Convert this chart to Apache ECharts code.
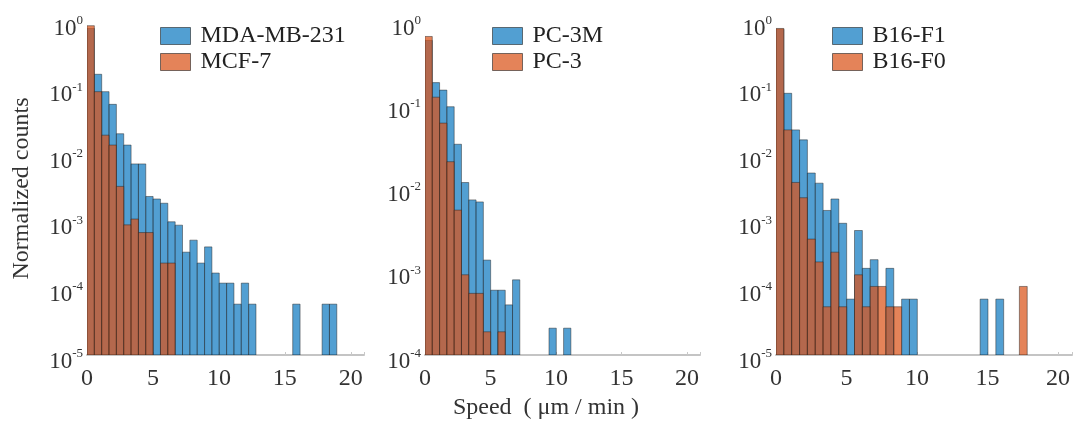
<!DOCTYPE html>
<html>
<head>
<meta charset="utf-8">
<script src="https://cdn.jsdelivr.net/npm/echarts@6/dist/echarts.min.js"></script>
<style>html,body{margin:0;padding:0;background:#fff;}#c{width:1081px;height:425px;}</style>
</head>
<body>
<div id="c"></div>
<script>
// ---- data ----
const BIN = 0.557; // histogram bin width (µm/min)
const xTicks = [0, 5, 10, 15, 20];
const names1 = ['MDA-MB-231', 'MCF-7'];
const names2 = ['PC-3M', 'PC-3'];
const names3 = ['B16-F1', 'B16-F0'];
// normalized counts per bin (bin i covers [i*BIN, (i+1)*BIN))
const mda = [0.8, 0.164, 0.09, 0.058, 0.021, 0.0142, 0.0074, 0.0074, 0.0024, 0.0022, 0.0019, 0.0010, 0.00089, 0.00035, 0.00053, 0.00024, 0.00042, 0.00017, 0.00012, 0.00012, 0.000058, 0.00012, 0.000058, 0, 0, 0, 0, 0, 0.000058, 0, 0, 0, 0.000058, 0.000058];
const mcf = [0.88, 0.09, 0.020, 0.0142, 0.0034, 0.0009, 0.0011, 0.00069, 0.00069, 0, 0.00024, 0.00024];
const pc3m = [0.6, 0.187, 0.152, 0.096, 0.034, 0.0118, 0.0073, 0.0069, 0.00138, 0.0006, 0.0006, 0.0004, 0.0008, 0, 0, 0, 0, 0.00021, 0, 0.00021];
const pc3 = [0.67, 0.125, 0.061, 0.021, 0.0055, 0.00092, 0.00055, 0.00055, 0.00019, 0, 0.00019];
const b16f1 = [0.78, 0.085, 0.024, 0.017, 0.0054, 0.0038, 0.00148, 0.0022, 0.00095, 0.000069, 0.00074, 0.0002, 0.00027, 0, 0.0002, 0, 0.000069, 0.000069, 0, 0, 0, 0, 0, 0, 0, 0, 0.000069, 0, 0.000069];
const b16f0 = [0.80, 0.024, 0.0039, 0.0023, 0.00055, 0.00025, 0.000053, 0.00035, 0.000053, 0, 0.00016, 0.000053, 0.000107, 0.000107, 0.000053, 0.000053, 0, 0, 0, 0, 0, 0, 0, 0, 0, 0, 0, 0, 0, 0, 0, 0.000107];
const yMins = [1e-5, 1e-4, 1e-5];

// ---- styling ----
const FONT = '"Liberation Serif", "DejaVu Serif", serif';
const BLUE = 'rgba(0,114,189,0.68)';
const ORANGE = 'rgba(217,83,25,0.72)';
const EDGE = 'rgba(35,35,35,0.6)';

function toBins(arr) {
  const out = [];
  arr.forEach((v, i) => { if (v > 0) out.push([i * BIN, (i + 1) * BIN, v]); });
  return out;
}

function histSeries(name, arr, gi, color) {
  const yMin = yMins[gi];
  return {
    type: 'custom', name: name, xAxisIndex: gi, yAxisIndex: gi,
    itemStyle: { color: color, borderColor: EDGE, borderWidth: 1 },
    encode: { x: [0, 1], y: 2 },
    data: toBins(arr),
    clip: true,
    renderItem: function (params, api) {
      const p0 = api.coord([api.value(0), api.value(2)]);
      const p1 = api.coord([api.value(1), yMin]);
      return {
        type: 'rect',
        shape: { x: p0[0], y: p0[1], width: p1[0] - p0[0], height: p1[1] - p0[1] },
        style: { fill: color, stroke: EDGE, lineWidth: 0.8 }
      };
    }
  };
}

const grids = [
  { left: 87, right: 717, top: 22, bottom: 70 },
  { left: 425, right: 381, top: 22, bottom: 70 },
  { left: 776, right: 9, top: 22, bottom: 70 }
];

function xAxis(gi) {
  return {
    type: 'value', gridIndex: gi, min: 0, max: 21, interval: 5,
    axisLine: { show: true, lineStyle: { color: '#c4c4c4', width: 2 } },
    axisTick: { show: true, inside: true, length: 3, lineStyle: { color: '#c8c8c8' } },
    splitLine: { show: false },
    axisLabel: {
      margin: 12, fontFamily: FONT, fontSize: 24, color: '#333',
      customValues: xTicks,
      formatter: v => (xTicks.indexOf(v) >= 0 ? String(v) : '')
    }
  };
}

function yAxis(gi) {
  const ax = {
    type: 'log', logBase: 10, gridIndex: gi, min: yMins[gi], max: 1,
    axisLine: { show: false }, axisTick: { show: false }, splitLine: { show: false },
    axisLabel: {
      margin: 4, color: '#333', fontFamily: FONT, padding: [10, 0, 0, 0],
      formatter: v => '{b|10}{s|' + Math.round(Math.log10(v)) + '}',
      rich: {
        b: { fontFamily: FONT, fontSize: 23, color: '#333', lineHeight: 26, verticalAlign: 'bottom' },
        s: { fontFamily: FONT, fontSize: 13, color: '#333', lineHeight: 26, verticalAlign: 'top' }
      }
    }
  };
  if (gi === 0) {
    ax.name = 'Normalized counts';
    ax.nameLocation = 'middle';
    ax.nameGap = 53;
    ax.nameTextStyle = { fontFamily: FONT, fontSize: 24, color: '#333' };
  }
  return ax;
}

function legend(names, left) {
  return {
    data: names, left: left, top: 19, orient: 'vertical', icon: 'rect',
    itemWidth: 30, itemHeight: 17, itemGap: 2,
    itemStyle: { borderColor: EDGE, borderWidth: 1 },
    textStyle: { fontFamily: FONT, fontSize: 24, color: '#222', lineHeight: 21, padding: [0, 0, 0, 5] }
  };
}

const chart = echarts.init(document.getElementById('c'), null, { renderer: 'canvas' });
chart.setOption({
  backgroundColor: '#fff',
  animation: false,
  grid: grids,
  xAxis: [xAxis(0), xAxis(1), xAxis(2)],
  yAxis: [yAxis(0), yAxis(1), yAxis(2)],
  legend: [legend(names1, 155), legend(names2, 487), legend(names3, 827)],
  graphic: [{
    type: 'text', x: 546, y: 408,
    style: { text: 'Speed  ( μm / min )', font: '24px ' + FONT, fill: '#333', textAlign: 'center', textVerticalAlign: 'middle' }
  }],
  series: [
    histSeries(names1[0], mda, 0, BLUE),
    histSeries(names1[1], mcf, 0, ORANGE),
    histSeries(names2[0], pc3m, 1, BLUE),
    histSeries(names2[1], pc3, 1, ORANGE),
    histSeries(names3[0], b16f1, 2, BLUE),
    histSeries(names3[1], b16f0, 2, ORANGE)
  ]
});
</script>
</body>
</html>
